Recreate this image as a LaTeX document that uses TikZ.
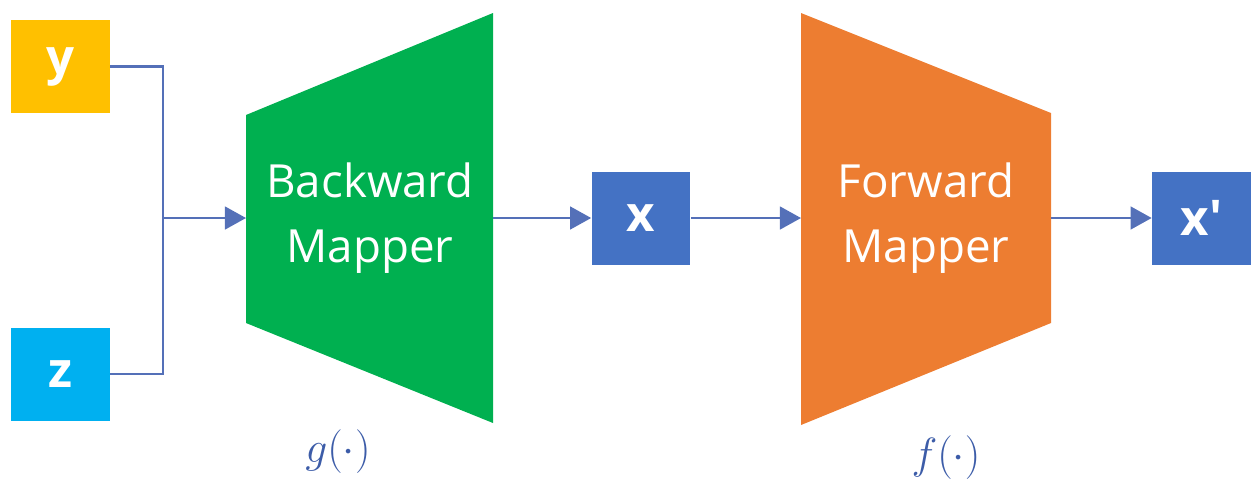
\documentclass[tikz,border=0pt]{standalone}
\usepackage{fontspec}
\setmainfont{Open Sans}
\usetikzlibrary{arrows.meta}
\definecolor{boxyellow}{HTML}{FFC000}
\definecolor{boxcyan}{HTML}{00B0F0}
\definecolor{boxblue}{HTML}{4472C4}
\definecolor{mapgreen}{HTML}{00B050}
\definecolor{maporange}{HTML}{ED7D31}
\definecolor{linkblue}{HTML}{5470B8}
\definecolor{labelblue}{HTML}{3C5CA8}
\begin{document}
\begin{tikzpicture}[x=0.02cm, y=-0.02cm,
    var/.style={minimum width=1.98cm, minimum height=1.86cm, inner sep=0pt,
      text=white, font=\fontsize{28}{30}\selectfont\bfseries},
    mapper/.style={text=white, align=center, font=\fontsize{26}{37}\selectfont},
    link/.style={draw=linkblue, line width=1.2pt},
    arrow/.style={link, -{Triangle[length=12pt, width=13pt]}},
    fname/.style={text=labelblue, font=\fontsize{24}{28}\selectfont}]
    \useasboundingbox (0,0) rectangle (1252,485);
    % inputs
    \node[var, fill=boxyellow] (y) at (60.5,66.5) {y};
    \node[var, fill=boxcyan] (z) at (60.5,374) {z};
    % mappers
    \fill[mapgreen] (246,115) -- (493,13) -- (493,423) -- (246,323) -- cycle;
    \fill[maporange] (801,13) -- (1051,113) -- (1051,323) -- (801,425) -- cycle;
    \node[mapper] (bwd) at (370,218) {Backward\\Mapper};
    \node[mapper] (fwd) at (926,218) {Forward\\Mapper};
    \coordinate (bwdin) at (246,218);
    \coordinate (bwdout) at (493,218);
    \coordinate (fwdin) at (801,218);
    \coordinate (fwdout) at (1051,218);
    % outputs
    \node[var, fill=boxblue] (x) at (641,218) {x};
    \node[var, fill=boxblue] (xp) at (1201.5,218) {x\textquotesingle};
    \node[fname] (g) at (338,452) {$g(\cdot)$};
    \node[fname] (f) at (946,458) {$f(\cdot)$};
    % connectors
    \coordinate (join) at (163,218);
    \draw[link] (y.east) -| (join);
    \draw[link] (z.east) -| (join);
    \draw[arrow] (join) -- (bwdin);
    \draw[arrow] (bwdout) -- (x.west);
    \draw[arrow] (x.east) -- (fwdin);
    \draw[arrow] (fwdout) -- (xp.west);
\end{tikzpicture}
\end{document}
